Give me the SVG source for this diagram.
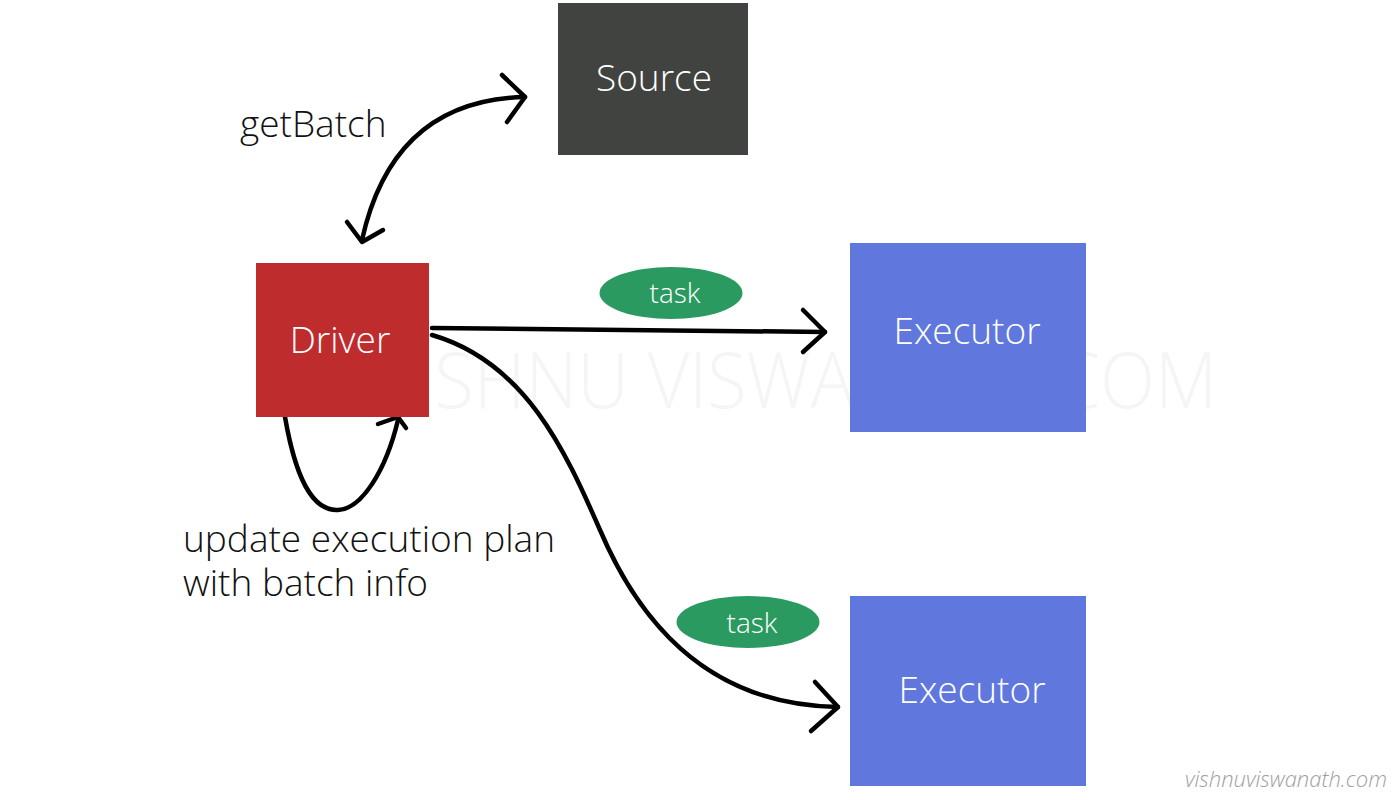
<svg xmlns="http://www.w3.org/2000/svg" width="1400" height="800" viewBox="0 0 1400 800">
  <style>
    text { font-family: "Open Sans", "Liberation Sans", sans-serif; font-weight: 300; }
    .node-label { fill: #ffffff; font-size: 37px; text-anchor: middle; }
    .task-label { fill: #ffffff; font-size: 28px; text-anchor: middle; }
    .label { fill: #111111; font-size: 37px; }
    .wire { fill: none; stroke: #000000; stroke-width: 4.5; stroke-linecap: round; stroke-linejoin: round; }
    .watermark { fill: #f5f5f5; font-size: 78px; }
    .credit { fill: #a0a0a0; font-size: 22px; font-style: italic; text-anchor: end; }
  </style>

  <rect width="1400" height="800" fill="#ffffff"/>

  <text class="watermark" x="375" y="408" textLength="842" lengthAdjust="spacingAndGlyphs">VISHNU VISWANATH.COM</text>

  <g id="connectors">
    <!-- getBatch: Driver <-> Source -->
    <path class="wire" d="M362,240 Q393,100 525,97"/>
    <polyline class="wire" points="347,222 362,242 383,230"/>
    <polyline class="wire" points="502,75 525,97 507,122"/>
    <!-- Driver -> Executor 1 -->
    <path class="wire" d="M432,328 L825,332"/>
    <polyline class="wire" points="803,310 825,332 803,352"/>
    <!-- Driver -> Executor 2 -->
    <path class="wire" d="M432,335 C525,362 565,450 600,530 C635,612 700,705 838,707"/>
    <polyline class="wire" points="815,682 838,707 811,731"/>
    <!-- Driver self loop -->
    <path class="wire" d="M285,417 C298,492 318,511 338,510 C362,509 386,470 398,420"/>
    <polyline class="wire" points="378,424 398,417 406,428"/>
  </g>

  <g id="source">
    <rect x="558" y="3" width="190" height="152" fill="#414340"/>
    <text class="node-label" x="654" y="91">Source</text>
  </g>

  <g id="driver">
    <rect x="256" y="263" width="173" height="154" fill="#be2c2e"/>
    <text class="node-label" x="340" y="353">Driver</text>
  </g>

  <g id="executor1">
    <rect x="850" y="243" width="236" height="189" fill="#6077de"/>
    <text class="node-label" x="967" y="344">Executor</text>
  </g>

  <g id="executor2">
    <rect x="850" y="596" width="236" height="190" fill="#6077de"/>
    <text class="node-label" x="972" y="703">Executor</text>
  </g>

  <g id="task1">
    <ellipse cx="671" cy="293" rx="71.5" ry="26" fill="#2b9a61"/>
    <text class="task-label" x="675" y="303">task</text>
  </g>

  <g id="task2">
    <ellipse cx="748" cy="622" rx="71.5" ry="26" fill="#2b9a61"/>
    <text class="task-label" x="752" y="633">task</text>
  </g>

  <g id="labels">
    <text class="label" x="240" y="137">getBatch</text>
    <text class="label" x="183" y="552">update execution plan</text>
    <text class="label" x="183" y="596">with batch info</text>
  </g>

  <text class="credit" x="1387" y="787">vishnuviswanath.com</text>
</svg>
